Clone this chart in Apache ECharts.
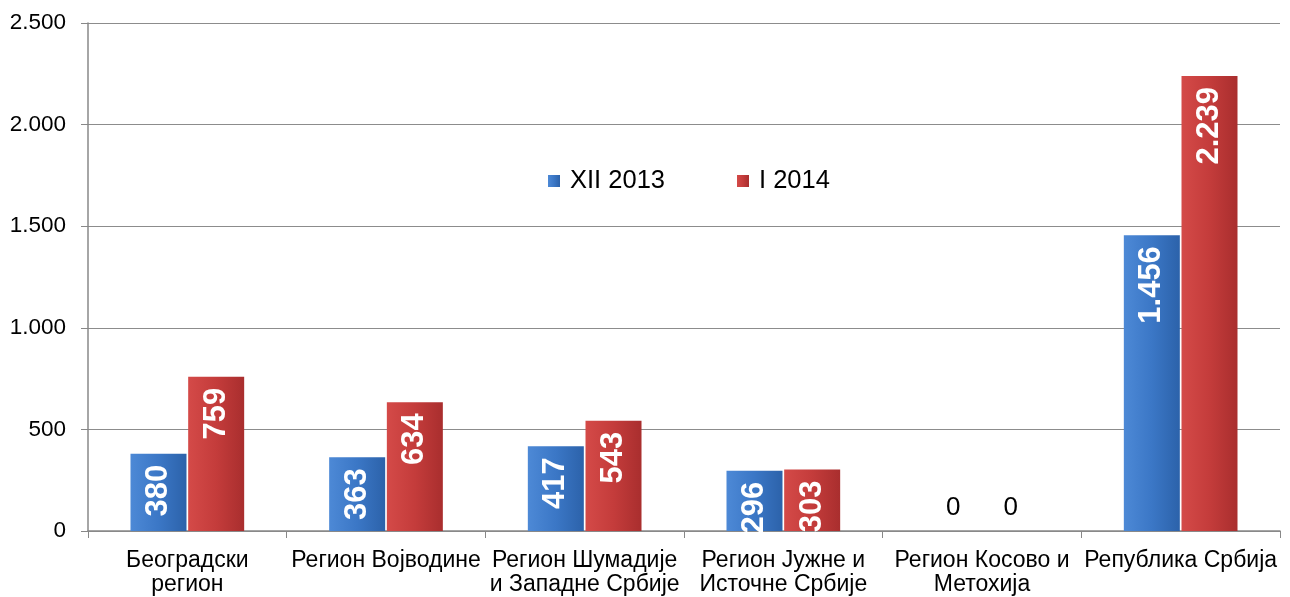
<!DOCTYPE html>
<html>
<head>
<meta charset="utf-8">
<script src="https://cdn.jsdelivr.net/npm/echarts@6/dist/echarts.min.js"></script>
<style>
  html, body { margin: 0; padding: 0; background: #fff; }
  #chart { width: 1290px; height: 597px; }
</style>
</head>
<body>
<div id="chart"></div>
<script>
// регионы
const categories = [
  'Београдски\nрегион',
  'Регион Војводине',
  'Регион Шумадије\nи Западне Србије',
  'Регион Јужне и\nИсточне Србије',
  'Регион Косово и\nМетохија',
  'Република Србија'
]
const seriesNames = ['XII 2013', 'I 2014']
const dec2013 = [380, 363, 417, 296, 0, 1456]
const jan2014 = [759, 634, 543, 303, 0, 2239]
const yTicks = { min: 0, max: 2500, interval: 500 }

const fontFamily = 'Liberation Sans, Arial, sans-serif'

// формат са тачком за хиљаде
function fmt(v) {
  return String(v).replace(/\B(?=(\d{3})+(?!\d))/g, '.')
}

function gradient(c1, c2, c3) {
  return new echarts.graphic.LinearGradient(0, 0, 1, 0, [
    { offset: 0, color: c1 },
    { offset: 0.5, color: c2 },
    { offset: 1, color: c3 }
  ])
}

function barData(values) {
  return values.map(v => {
    if (v !== 0) return v
    return {
      value: v,
      label: {
        position: 'top',
        rotate: 0,
        align: 'center',
        verticalAlign: 'bottom',
        distance: 10,
        color: '#000',
        fontWeight: 'normal',
        fontSize: 26
      }
    }
  })
}

const barLabel = {
  show: true,
  position: 'insideTop',
  distance: 11,
  rotate: 90,
  align: 'right',
  verticalAlign: 'middle',
  color: '#fff',
  fontWeight: 'bold',
  fontSize: 31,
  fontFamily,
  formatter: p => fmt(p.value)
}

const chart = echarts.init(document.getElementById('chart'))
chart.setOption({
  animation: false,
  backgroundColor: '#fff',
  grid: { left: 88, right: 10, top: 23, bottom: 66, containLabel: false, outerBoundsMode: 'none' },
  legend: {
    data: seriesNames,
    left: 543,
    top: 163,
    icon: 'rect',
    itemWidth: 12,
    itemHeight: 12,
    itemGap: 72,
    textStyle: { fontSize: 25.5, color: '#000', fontFamily, padding: [2, 0, 0, 5] }
  },
  xAxis: {
    type: 'category',
    data: categories,
    axisLine: { lineStyle: { color: '#888', width: 1.5 } },
    axisTick: { show: true, length: 7, lineStyle: { color: '#888' } },
    axisLabel: {
      color: '#000',
      fontSize: 23,
      fontFamily,
      lineHeight: 24,
      margin: 18,
      interval: 0
    }
  },
  yAxis: {
    type: 'value',
    min: yTicks.min,
    max: yTicks.max,
    interval: yTicks.interval,
    axisLine: { show: true, lineStyle: { color: '#888', width: 1.5 } },
    axisTick: { show: true, length: 7, lineStyle: { color: '#888' } },
    splitLine: { lineStyle: { color: '#8c8c8c', width: 1 } },
    axisLabel: {
      color: '#000',
      fontSize: 22.5,
      fontFamily,
      margin: 22,
      formatter: v => fmt(v)
    }
  },
  series: [
    {
      name: seriesNames[0],
      type: 'bar',
      data: barData(dec2013),
      barWidth: 56,
      barGap: '3%',
      itemStyle: {
        color: gradient('#4d89d6', '#3b77c6', '#2c62aa')
      },
      label: barLabel
    },
    {
      name: seriesNames[1],
      type: 'bar',
      data: barData(jan2014),
      barWidth: 56,
      itemStyle: {
        color: gradient('#d44a48', '#c43c3b', '#a92e2e')
      },
      label: barLabel
    }
  ]
})
</script>
</body>
</html>
